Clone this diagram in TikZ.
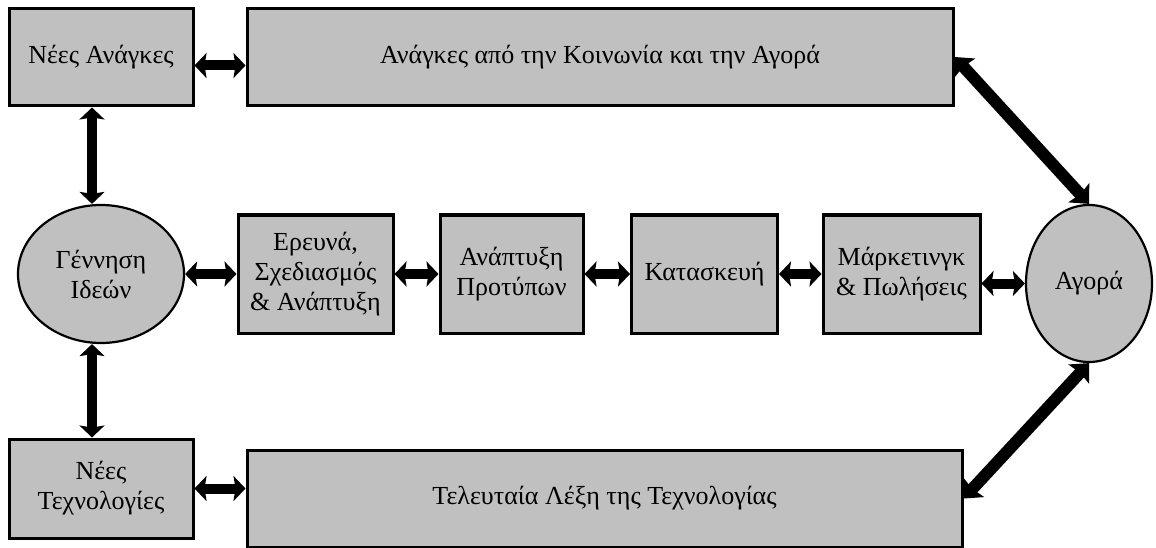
\documentclass[tikz,border=0pt]{standalone}
\usepackage{fontspec}
\setmainfont{Liberation Serif}
\usetikzlibrary{arrows.meta,shapes.geometric}
\definecolor{boxgray}{HTML}{C0C0C0}
\tikzset{
  x=1pt, y=-1pt,
  every node/.style={font=\fontsize{26}{30}\selectfont, align=center, inner sep=0pt},
  greybox/.style={draw=black, line width=3pt, fill=boxgray, rectangle},
  greyoval/.style={draw=black, line width=2.2pt, fill=boxgray, ellipse},
  link/.style={line width=10pt, {Stealth[length=12pt,width=25pt,inset=2pt]}-{Stealth[length=12pt,width=25pt,inset=2pt]}},
  biglink/.style={line width=12pt, {Stealth[length=15pt,width=28pt,inset=2pt]}-{Stealth[length=15pt,width=28pt,inset=2pt]}}
}
\begin{document}
\begin{tikzpicture}
\useasboundingbox (0,0) rectangle (1156,548);

% top row
\node[greybox, minimum width=184pt, minimum height=97pt] (na) at (101,57.5) {Νέες Ανάγκες};
\node[greybox, minimum width=706pt, minimum height=97pt] (top) at (600,57) {Ανάγκες από την Κοινωνία και την Αγορά};

% middle row
\node[greyoval, minimum width=166pt, minimum height=138pt] (gi) at (101,274) {Γέννηση\\Ιδεών};
\node[greybox, minimum width=155pt, minimum height=118pt] (rd) at (315.5,274) {Ερευνά,\\Σχεδιασμός\\\& Ανάπτυξη};
\node[greybox, minimum width=143pt, minimum height=118pt] (pr) at (511.5,274) {Ανάπτυξη\\Προτύπων};
\node[greybox, minimum width=146pt, minimum height=118pt] (ka) at (704.5,274) {Κατασκευή};
\node[greybox, minimum width=157pt, minimum height=118pt] (mk) at (901.5,274) {Μάρκετινγκ\\\& Πωλήσεις};
\node[greyoval, minimum width=126pt, minimum height=157pt] (ag) at (1089,283.5) {Αγορά};

% bottom row
\node[greybox, minimum width=184pt, minimum height=99pt] (nt) at (101,488.5) {Νέες\\Τεχνολογίες};
\node[greybox, minimum width=715pt, minimum height=97pt] (bot) at (604.5,498.5) {Τελευταία Λέξη της Τεχνολογίας};

% connectors
\draw[link] ([yshift=-8pt]na.east) -- ([yshift=-8pt]na.east -| top.west);
\draw[link] ([xshift=-9pt]na.south) -- ([xshift=-9pt]gi.north);
\draw[link] ([xshift=-9pt]gi.south) -- ([xshift=-9pt]gi.south |- nt.north);
\draw[link] (nt.east) -- (nt.east -| bot.west);
\draw[link] (gi.east) -- (rd.west);
\draw[link] (rd.east) -- (pr.west);
\draw[link] (pr.east) -- (ka.west);
\draw[link] (ka.east) -- (mk.west);
\draw[link] (mk.east |- ag.west) -- (ag.west);
\draw[biglink] (ag.north) -- (top.east);
\draw[biglink] (ag.south) -- (bot.east);
\end{tikzpicture}
\end{document}
